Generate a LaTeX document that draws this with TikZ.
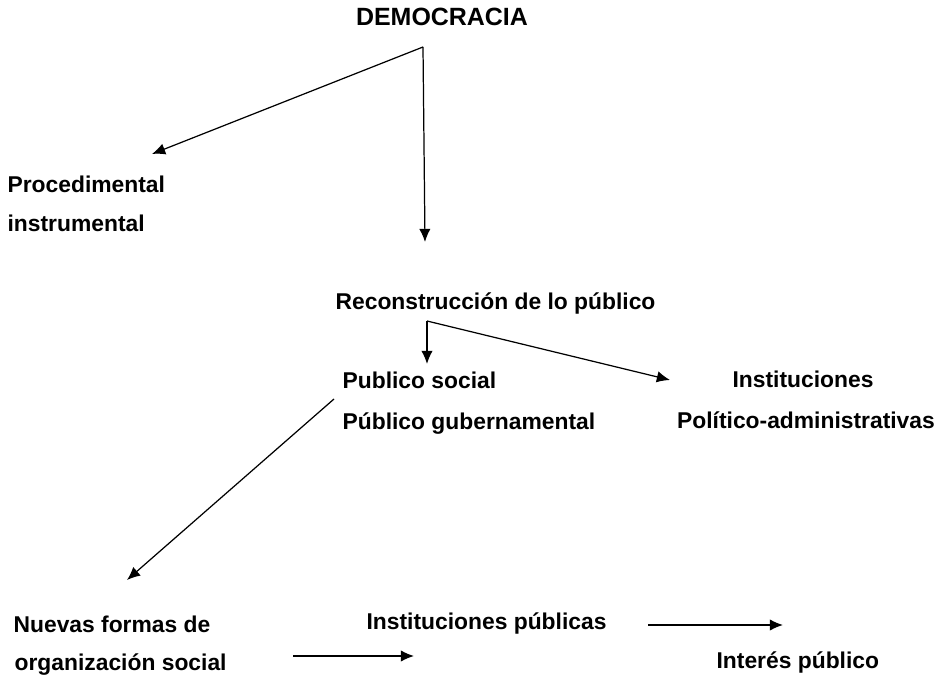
\documentclass[tikz,border=0pt]{standalone}
\usepackage{fontspec}
\setmainfont{Liberation Sans}
\usepackage{tikz}
\usetikzlibrary{arrows.meta}
\tikzset{>={Latex[length=7.5pt,width=6.5pt]}}

\begin{document}
\begin{tikzpicture}[x=0.02cm,y=-0.02cm,line width=0.7pt,
	txt/.style={anchor=west,inner sep=0pt,text height=0.72em,text depth=0pt,font=\fontsize{13}{15}\selectfont\bfseries},
	ctxt/.style={txt,anchor=center}]
	\useasboundingbox (0,0) rectangle (940,675);
	\node[ctxt,font=\fontsize{14.2}{16}\selectfont\bfseries] (dem) at (442,19) {DEMOCRACIA};
	\node[txt] (proc) at (7,186) {Procedimental};
	\node[txt] (instr) at (7,225) {instrumental};
	\node[txt] (recon) at (335,303) {Reconstrucción de lo público};
	\node[txt] (psoc) at (342,382) {Publico social};
	\node[txt] (pgub) at (342,423) {Público gubernamental};
	\node[ctxt] (inst) at (803,381) {Instituciones};
	\node[ctxt] (polad) at (806,422) {Político-administrativas};
	\node[txt] (nuev) at (13,626) {Nuevas formas de};
	\node[txt] (orga) at (14,664) {organización social};
	\node[txt] (ipub) at (366,623) {Instituciones públicas};
	\node[txt] (inter) at (716,662) {Interés público};
	% corners and arrow ends
	\coordinate (demc) at (423,47);
	\coordinate (procend) at (152,154);
	\coordinate (reconend) at (425,242);
	\coordinate (recc) at (427,321);
	\coordinate (psocend) at (427,364);
	\coordinate (instend) at (670,380);
	\coordinate (nuevstart) at (334,399);
	\coordinate (nuevend) at (127,580);
	\coordinate (ipubstart) at (648,625);
	\coordinate (ipubend) at (783,625);
	\coordinate (orgastart) at (293,656);
	\coordinate (orgaend) at (414,656);
	\draw[->] (demc) -- (procend);
	\draw[->] (demc) -- (reconend);
	\draw[->] (recc) -- (psocend);
	\draw[->] (recc) -- (instend);
	\draw[->] (nuevstart) -- (nuevend);
	\draw[->] (ipubstart) -- (ipubend);
	\draw[->] (orgastart) -- (orgaend);
\end{tikzpicture}
\end{document}
